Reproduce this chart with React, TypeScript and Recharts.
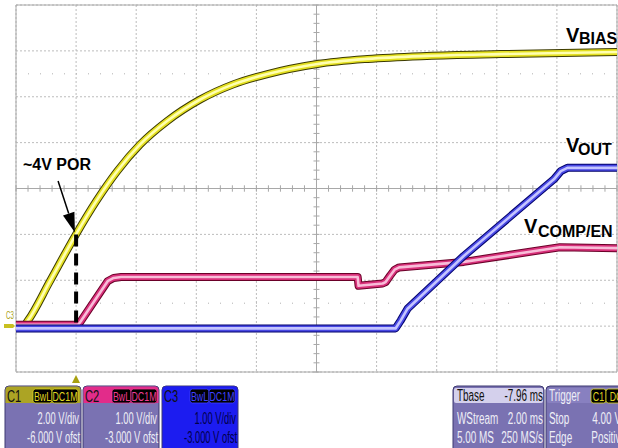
import React from "react";
import { LineChart, Line, XAxis, YAxis, CartesianGrid, ReferenceLine } from "recharts";

// time axis: 2 ms/div, trigger (t = 0) one division from the left edge
const timeTicks = [-2, 0, 2, 4, 6, 8, 10, 12, 14, 16, 18];
// C1 scale: 2 V/div, -6 V offset -> ground one division above the bottom
const c1Ticks = [-2, 0, 2, 4, 6, 8, 10, 12, 14];
const c1Domain = [-2, 14];
// C2 / C3 scale: 1 V/div, -3 V offset
const c23Domain = [-1, 7];

// C1 - VBIAS
const vbiasT = [-2, -1.75, -1.6, -0.87, 0, 0.67, 1.37, 2.13, 3.03, 4.13, 5.23, 6.37, 8.03, 9.7, 11.67, 14.13, 18];
const vbiasV = [0, 0, 0.25, 1.96, 4.01, 5.45, 6.76, 7.92, 8.94, 9.88, 10.54, 10.99, 11.43, 11.65, 11.78, 11.86, 11.95];

// C2 - VCOMP/EN
const compT = [-2, 0.07, 0.15, 1.05, 1.25, 1.5, 9.37, 9.4, 10.2, 10.3, 10.45, 10.6, 10.75, 12.9, 16.1, 18];
const compV = [0.03, 0.03, 0.1, 0.98, 1.05, 1.07, 1.07, 0.88, 0.93, 0.96, 1.1, 1.23, 1.28, 1.4, 1.72, 1.7];

// C3 - VOUT
const voutT = [-2, 10.63, 10.8, 11.03, 12.9, 15.9, 16.13, 16.35, 18];
const voutV = [-0.05, -0.05, 0.12, 0.38, 1.53, 3.2, 3.38, 3.45, 3.45];

const toRows = (t: number[], v: number[]) => t.map((x, i) => ({ t: x, v: v[i] }));
const vbias = toRows(vbiasT, vbiasV);
const comp = toRows(compT, compV);
const vout = toRows(voutT, voutV);

// minor ticks along the centre cross (0.2 div)
const minorT = Array.from({ length: 51 }, (_, i) => -2 + i * 0.4);
const minorV = Array.from({ length: 41 }, (_, i) => -2 + i * 0.4);

const panelFont = "'Liberation Sans', Arial, sans-serif";

const trace = (key: string, data: any[], axis: string, curve: any, c: string[]) =>
  [8, 6, 2.6].map((w, i) => (
    <Line
      key={key + i}
      data={data}
      dataKey="v"
      xAxisId="t"
      yAxisId={axis}
      type={curve}
      stroke={c[i]}
      strokeWidth={w}
      strokeLinejoin="round"
      dot={false}
      activeDot={false}
      isAnimationActive={false}
    />
  ));

const arrowShape = (p: any) => {
  const { x1, y1, x2, y2 } = p;
  const a = Math.atan2(y2 - y1, x2 - x1);
  const bx = x2 - 20 * Math.cos(a);
  const by = y2 - 20 * Math.sin(a);
  const px = -Math.sin(a) * 6;
  const py = Math.cos(a) * 6;
  return (
    <g>
      <line x1={x1} y1={y1} x2={bx} y2={by} stroke="#000" strokeWidth={1.5} />
      <polygon points={`${x2},${y2} ${bx + px},${by + py} ${bx - px},${by - py}`} fill="#000" />
    </g>
  );
};

// condensed scope-style text
const nt = (x: number, y: number, s: string, fill: string, anchor = "start", size = 14, sx = 0.62) => (
  <text
    key={s + x + y}
    transform={`translate(${x} ${y}) scale(${sx} 1)`}
    textAnchor={anchor}
    fontSize={size}
    fill={fill}
  >
    {s}
  </text>
);

const badge = (x0: number, x1: number, s: string, c: string) => (
  <g key={s + x0}>
    <rect x={x0} y={389} width={x1 - x0} height={14} rx={2.5} fill="#000" stroke={c} strokeWidth={0.8} />
    {nt((x0 + x1) / 2, 401, s, c, "middle", 13, 0.68)}
  </g>
);

const channels = [
  { x: 5, name: "C1", head: "#aca424", body: "#7a72b2", text: "#eeeef6", badge: "#e0d820", bw: 33, vdiv: "2.00 V/div", ofst: "-6.000 V ofst" },
  { x: 83, name: "C2", head: "#e22c8a", body: "#7a72b2", text: "#eeeef6", badge: "#f03c94", bw: 112, vdiv: "1.00 V/div", ofst: "-3.000 V ofst" },
  { x: 162, name: "C3", head: "#1c1cf0", body: "#1c1cf0", text: "#00004a", badge: "#4040ff", bw: 190, vdiv: "1.00 V/div", ofst: "-3.000 V ofst" },
];

export default function App() {
  return (
    <div
      style={{
        position: "absolute",
        left: 0,
        top: 0,
        width: 618,
        height: 448,
        overflow: "hidden",
        background: "#fff",
      }}
    >
      <LineChart width={618} height={448} margin={{ top: 5, right: 1, bottom: 76, left: 16 }}>
        <XAxis xAxisId="t" type="number" dataKey="t" domain={[-2, 18]} ticks={timeTicks} hide allowDataOverflow />
        <YAxis yAxisId="c1" type="number" domain={c1Domain} ticks={c1Ticks} hide allowDataOverflow />
        <YAxis yAxisId="c23" type="number" domain={c23Domain} hide allowDataOverflow />
        <CartesianGrid xAxisId="t" yAxisId="c1" stroke="#bcbcbc" strokeDasharray="2 2" />
        <ReferenceLine xAxisId="t" yAxisId="c1" y={11} stroke="#b0b0b0" strokeDasharray="1 11" />
        <ReferenceLine xAxisId="t" yAxisId="c1" y={1} stroke="#b0b0b0" strokeDasharray="1 11" />
        <ReferenceLine xAxisId="t" yAxisId="c1" x={-2} stroke="#a8a8a8" />
        <ReferenceLine xAxisId="t" yAxisId="c1" x={18} stroke="#a8a8a8" />
        <ReferenceLine xAxisId="t" yAxisId="c1" y={14} stroke="#a8a8a8" />
        <ReferenceLine xAxisId="t" yAxisId="c1" y={-2} stroke="#a8a8a8" />
        <ReferenceLine xAxisId="t" yAxisId="c1" x={8} stroke="#a8a8a8" />
        <ReferenceLine xAxisId="t" yAxisId="c1" y={6} stroke="#a8a8a8" />
        {minorT.map((t) => (
          <ReferenceLine
            key={"mt" + t}
            xAxisId="t"
            yAxisId="c1"
            segment={[{ x: t, y: 5.86 }, { x: t, y: 6.14 }]}
            stroke="#a8a8a8"
          />
        ))}
        {minorV.map((v) => (
          <ReferenceLine
            key={"mv" + v}
            xAxisId="t"
            yAxisId="c1"
            segment={[{ x: 7.9, y: v }, { x: 8.1, y: v }]}
            stroke="#a8a8a8"
          />
        ))}
        {trace("c1", vbias, "c1", "monotone", ["#3c3a00", "#e4e020", "#ffffb0"])}
        {trace("c2", comp, "c23", "linear", ["#6a0028", "#d8307a", "#f8bcd8"])}
        {trace("c3", vout, "c23", "linear", ["#00006a", "#4848e4", "#c4c4ff"])}
        <ReferenceLine
          xAxisId="t"
          yAxisId="c1"
          segment={[{ x: 0, y: 4 }, { x: 0, y: -0.15 }]}
          stroke="#000"
          strokeWidth={4}
          strokeDasharray="12 7"
        />
        <ReferenceLine
          xAxisId="t"
          yAxisId="c1"
          segment={[{ x: -0.6, y: 6.33 }, { x: -0.04, y: 4.08 }]}
          shape={arrowShape}
        />
      </LineChart>

      <svg
        width={618}
        height={448}
        style={{ position: "absolute", left: 0, top: 0, pointerEvents: "none" }}
      >
        <g fontFamily={panelFont} fontWeight="bold" fill="#000">
          <text x={23} y={170} fontSize={16}>~4V POR</text>
          <text x={566} y={42} fontSize={20}>V</text>
          <text x={579} y={44} fontSize={16}>BIAS</text>
          <text x={566} y={152} fontSize={20}>V</text>
          <text x={578} y={155} fontSize={16}>OUT</text>
          <text x={524} y={233} fontSize={20}>V</text>
          <text x={538} y={237} fontSize={16}>COMP/EN</text>
        </g>
        <g fontFamily={panelFont}>
          {nt(6, 319, "C3", "#a8a010", "start", 10)}
          <polygon points="4,324 13,324 15,326 13,328 4,328" fill="#c8c020" />
          <polygon points="72,383 80,383 76,375" fill="#a8a010" />

          {channels.map((c) => (
            <g key={c.name}>
              <rect x={c.x} y={386} width={76} height={70} rx={4} fill={c.body} stroke="#3c3870" strokeWidth={1} />
              <path
                d={`M${c.x + 0.5},403 V390 a3.5,3.5 0 0 1 3.5,-3.5 H${c.x + 72} a3.5,3.5 0 0 1 3.5,3.5 V403 Z`}
                fill={c.head}
              />
              {nt(c.x + 2, 402, c.name, "#111", "start", 16, 0.7)}
              {badge(c.bw, c.bw + 19, "BwL", c.badge)}
              {badge(c.bw + 19, c.bw + 45, "DC1M", c.badge)}
              {nt(c.x + 74, 424, c.vdiv, c.text, "end", 17, 0.55)}
              {nt(c.x + 75, 443, c.ofst, c.text, "end", 17, 0.55)}
            </g>
          ))}

          <rect x={453} y={386} width={91} height={70} rx={4} fill="#7a72b2" stroke="#3c3870" strokeWidth={1} />
          <rect x={454} y={388} width={89} height={15} rx={2} fill="#d4d0ec" />
          {nt(457, 401, "Tbase", "#111", "start", 16)}
          {nt(543, 401, "-7.96 ms", "#111", "end", 16)}
          {nt(457, 424, "WStream", "#eeeef6", "start", 16)}
          {nt(543, 424, "2.00 ms", "#eeeef6", "end", 16)}
          {nt(457, 443, "5.00 MS", "#eeeef6", "start", 16)}
          {nt(543, 443, "250 MS/s", "#eeeef6", "end", 16)}

          <rect x={546} y={386} width={90} height={70} rx={4} fill="#7a72b2" stroke="#3c3870" strokeWidth={1} />
          <rect x={547} y={388} width={88} height={15} rx={2} fill="#8880c0" />
          {nt(549, 401, "Trigger", "#eeeef6", "start", 16)}
          {badge(591, 606, "C1", "#e0d820")}
          {badge(606, 626, "DC", "#e0d820")}
          {nt(549, 424, "Stop", "#eeeef6", "start", 16)}
          {nt(621, 424, "4.00 V", "#eeeef6", "end", 16)}
          {nt(549, 443, "Edge", "#eeeef6", "start", 16)}
          {nt(626, 443, "Positive", "#eeeef6", "end", 16)}
        </g>
      </svg>
    </div>
  );
}
